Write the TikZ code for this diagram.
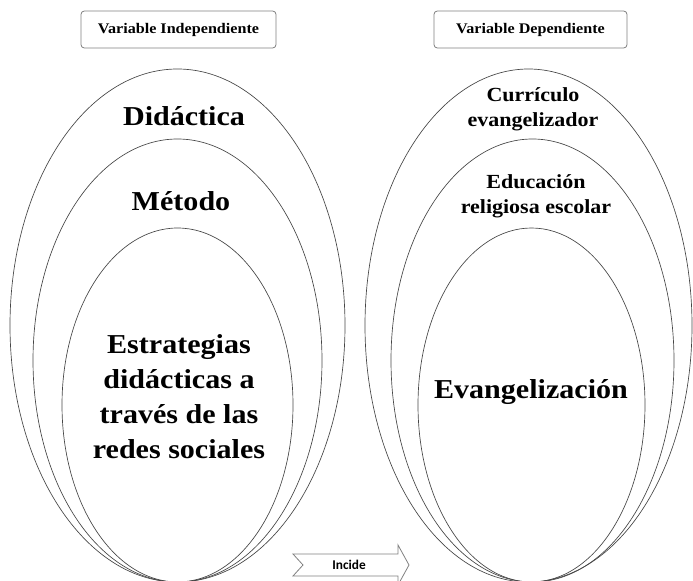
\documentclass[tikz,border=0pt]{standalone}
\usepackage{fontspec}
\setmainfont{Liberation Serif}[FakeStretch=1.1]
\newfontfamily\arrowfont{Carlito}
\usepackage{tikz}
\usetikzlibrary{shapes.geometric,positioning}
\definecolor{rim}{RGB}{70,70,70}
\definecolor{boxline}{RGB}{128,128,128}

\begin{document}
\begin{tikzpicture}[x=0.75pt, y=-0.75pt, every node/.style={align=center}, ring/.style={ellipse,draw=rim,line width=0.5pt,inner sep=0pt}, big/.style={font=\fontsize{20.5}{26.25}\selectfont\bfseries}, mid/.style={font=\fontsize{15}{19}\selectfont\bfseries}, varbox/.style={draw=boxline,line width=0.6pt,rounded corners=2.5pt,minimum height=27.75pt,font=\fontsize{11}{13}\selectfont\bfseries}, incarrow/.style={draw=boxline,line width=0.6pt}]
  \useasboundingbox (0,0) rectangle (693,581);
  \node[ring,minimum width=251.25pt,minimum height=384.75pt] (outL) at (177.5,325.5) {};
  \node[ring,minimum width=216.75pt,minimum height=332.25pt] (midL) at (177.5,360.5) {};
  \node[ring,minimum width=173.25pt,minimum height=265.5pt] (inL) at (177.5,405) {};
  \node[ring,minimum width=245.25pt,minimum height=384.75pt] (outR) at (528.5,325.5) {};
  \node[ring,minimum width=212.25pt,minimum height=332.25pt] (midR) at (532.5,360.5) {};
  \node[ring,minimum width=170.25pt,minimum height=265.5pt] (inR) at (531.5,405) {};
  \node[varbox,minimum width=146.25pt] (vind) at (178.5,29.5) {Variable Independiente};
  \node[varbox,minimum width=144.75pt] (vdep) at (530.5,29.5) {Variable Dependiente};
  \node[big] (did) at (184,116) {Didáctica};
  \node[big] (met) at (181,201) {Método};
  \node[big] (est) at (179,397) {Estrategias\\didácticas a\\través de las\\redes sociales};
  \node[mid] (cur) at (533,109) {Currículo\\evangelizador};
  \node[mid] (edu) at (536,196) {Educación\\religiosa escolar};
  \node[big] (eva) at (531,392) {Evangelización};
  \draw[incarrow] (293,554) -- (398,554) -- (398,545) -- (409,565) -- (398,585) -- (398,576) -- (293,576) -- (303,565) -- cycle;
  \node[font=\arrowfont\bfseries\fontsize{10}{12}\selectfont] (inc) at (349,565) {Incide};
\end{tikzpicture}
\end{document}
